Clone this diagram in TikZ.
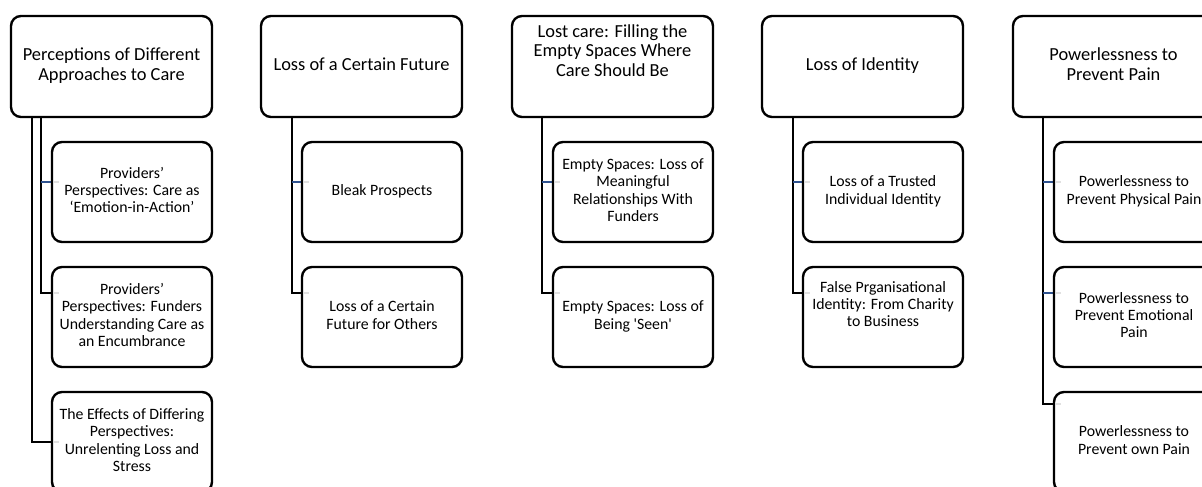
\documentclass[tikz,border=0pt]{standalone}
\usepackage{fontspec}
\newfontfamily\calfont{Carlito}
\usetikzlibrary{calc}
\definecolor{navy}{RGB}{47,82,143}
\newcommand\tx[1]{\begin{tabular}{@{}c@{}}#1\end{tabular}}
\tikzset{
  box/.style={draw=black, line width=2.4pt, fill=white, rounded corners=10pt,
    anchor=north west, inner sep=0pt, outer sep=0pt},
  parentbox/.style={box, minimum width=201pt, minimum height=101pt,
    font=\calfont\fontsize{18.4pt}{19.5pt}\selectfont},
  childbox/.style={box, minimum width=160pt, minimum height=100pt,
    font=\calfont\fontsize{15.8pt}{17.3pt}\selectfont},
  conn/.style={line width=2.4pt, black},
  stub/.style={line width=2pt, navy},
  ghost/.style={line width=2pt, black!12}
}
\begin{document}
\begin{tikzpicture}[x=1pt,y=-1pt]
\useasboundingbox (0,0) rectangle (1202,487);
\clip (0,0) rectangle (1202,487);
% parents
\node[parentbox] (p1) at (11,16) {\tx{Perceptions of Different\\Approaches to Care}};
\node[parentbox] (p2) at (261,16) {\tx{Loss of a Certain Future}};
\node[parentbox] (p3) at (512,16) {\tx{Lost care: Filling the\\Empty Spaces Where\\Care Should Be\\[27pt]}};
\node[parentbox] (p4) at (762,16) {\tx{Loss of Identity}};
\node[parentbox] (p5) at (1013,16) {\tx{Powerlessness to\\Prevent Pain}};
% connectors (drawn under children)
\begin{scope}[on background layer/.try]
\end{scope}
\path (52,142) coordinate (c11nw) (52,267) coordinate (c12nw) (52,392) coordinate (c13nw);
\draw[conn] ($(p1.south west)+(21,0)$) |- ($(c13nw)+(0,50)$);
\draw[conn] ($(p1.south west)+(30,0)$) |- ($(c12nw)+(0,26)$);
\draw[stub] ($(c11nw)+(-11,40)$) -- ($(c11nw)+(0,40)$);
\path (302,142) coordinate (c21nw) (302,267) coordinate (c22nw);
\draw[conn] ($(p2.south west)+(31,0)$) |- ($(c22nw)+(0,26)$);
\draw[stub] ($(c21nw)+(-10,40)$) -- ($(c21nw)+(0,40)$);
\path (553,142) coordinate (c31nw) (553,267) coordinate (c32nw);
\draw[conn] ($(p3.south west)+(30,0)$) |- ($(c32nw)+(0,26)$);
\draw[stub] ($(c31nw)+(-11,40)$) -- ($(c31nw)+(0,40)$);
\path (803,142) coordinate (c41nw) (803,267) coordinate (c42nw);
\draw[conn] ($(p4.south west)+(31,0)$) |- ($(c42nw)+(0,26)$);
\draw[stub] ($(c41nw)+(-10,40)$) -- ($(c41nw)+(0,40)$);
\path (1054,142) coordinate (c51nw) (1054,267) coordinate (c52nw) (1054,392) coordinate (c53nw);
\draw[conn] ($(p5.south west)+(30,0)$) |- ($(c53nw)+(0,12)$);
\draw[stub] ($(c51nw)+(-11,40)$) -- ($(c51nw)+(0,40)$);
\draw[stub] ($(c52nw)+(-11,26)$) -- ($(c52nw)+(0,26)$);
% children
\node[childbox] (c11) at (c11nw) {\tx{Providers’\\Perspectives: Care as\\‘Emotion-in-Action’}};
\node[childbox] (c12) at (c12nw) {\tx{Providers’\\Perspectives: Funders\\Understanding Care as\\an Encumbrance}};
\node[childbox] (c13) at (c13nw) {\tx{The Effects of Differing\\Perspectives:\\Unrelenting Loss and\\Stress}};
\node[childbox] (c21) at (c21nw) {\tx{Bleak Prospects}};
\node[childbox] (c22) at (c22nw) {\tx{Loss of a Certain\\Future for Others}};
\node[childbox] (c31) at (c31nw) {\tx{Empty Spaces: Loss of\\Meaningful\\Relationships With\\Funders}};
\node[childbox] (c32) at (c32nw) {\tx{Empty Spaces: Loss of\\Being 'Seen'}};
\node[childbox] (c41) at (c41nw) {\tx{Loss of a Trusted\\Individual Identity}};
\node[childbox] (c42) at (c42nw) {\tx{False Prganisational\\Identity: From Charity\\to Business\\[22pt]}};
\node[childbox] (c51) at (c51nw) {\tx{Powerlessness to\\Prevent Physical Pain}};
\node[childbox] (c52) at (c52nw) {\tx{Powerlessness to\\Prevent Emotional\\Pain}};
\node[childbox] (c53) at (c53nw) {\tx{Powerlessness to\\Prevent own Pain}};
% faint connector ends inside the boxes
\draw[ghost] ($(c11.north west)+(1.5,40)$) -- ++(5,0);
\draw[ghost] ($(c12.north west)+(1.5,26)$) -- ++(5,0);
\draw[ghost] ($(c13.north west)+(1.5,50)$) -- ++(5,0);
\draw[ghost] ($(c21.north west)+(1.5,40)$) -- ++(5,0);
\draw[ghost] ($(c22.north west)+(1.5,26)$) -- ++(5,0);
\draw[ghost] ($(c31.north west)+(1.5,40)$) -- ++(5,0);
\draw[ghost] ($(c32.north west)+(1.5,26)$) -- ++(5,0);
\draw[ghost] ($(c41.north west)+(1.5,40)$) -- ++(5,0);
\draw[ghost] ($(c42.north west)+(1.5,26)$) -- ++(5,0);
\draw[ghost] ($(c51.north west)+(1.5,40)$) -- ++(5,0);
\draw[ghost] ($(c52.north west)+(1.5,26)$) -- ++(5,0);
\draw[ghost] ($(c53.north west)+(1.5,12)$) -- ++(5,0);
\end{tikzpicture}
\end{document}
